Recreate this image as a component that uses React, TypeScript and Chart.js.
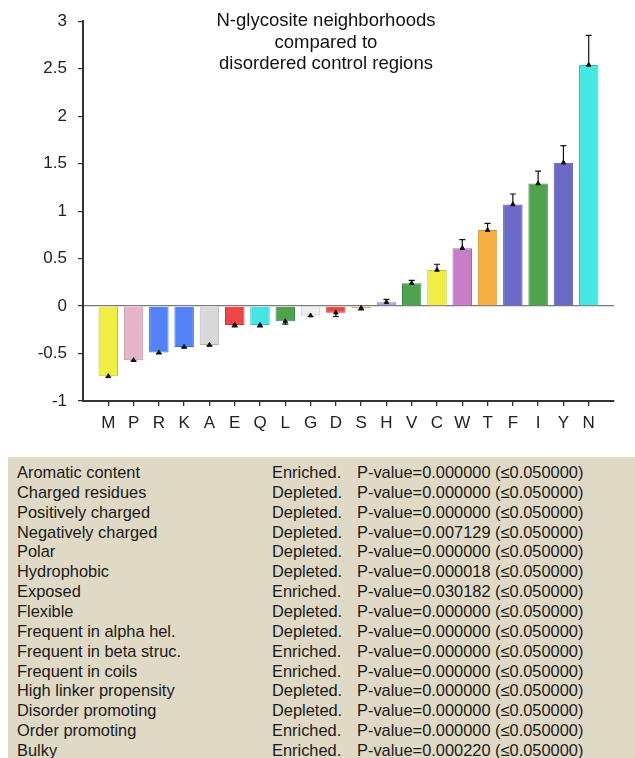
import React, { useEffect, useRef } from "react";
import { Chart, registerables } from "chart.js";

Chart.register(...registerables);

// Amino acid residues, ordered from most depleted to most enriched
const RESIDUES = ["M", "P", "R", "K", "A", "E", "Q", "L", "G", "D", "S", "H", "V", "C", "W", "T", "F", "I", "Y", "N"];

// Relative enrichment of each residue
const VALUES = [-0.74, -0.57, -0.49, -0.43, -0.41, -0.2, -0.2, -0.16, -0.1, -0.07, -0.02, 0.04, 0.24, 0.38, 0.61, 0.8, 1.07, 1.29, 1.51, 2.54];

// Error bar lengths (drawn away from zero)
const ERRORS = [0.01, 0.01, 0.01, 0.01, 0.01, 0.02, 0.02, 0.03, 0.01, 0.04, 0.02, 0.03, 0.03, 0.06, 0.09, 0.07, 0.11, 0.13, 0.18, 0.31];

// Residue group colours
const BAR_COLORS = [
  "#eeee44", "#e6b4c9", "#5282f5", "#5282f5", "#d9d9d9", "#ee4646",
  "#46e4e4", "#4fa34f", "#efefef", "#ee4646", "#f8b040", "#a0a0e2",
  "#4fa34f", "#eeee44", "#c77fc9", "#f8b040", "#6a6ac6", "#4fa34f",
  "#6a6ac6", "#46e8e4",
];

const Y_TICKS = [3, 2.5, 2, 1.5, 1, 0.5, 0, -0.5, -1];

const TITLE_LINES = ["N-glycosite neighborhoods", "compared to", "disordered control regions"];

// Property summary table
const PROPERTIES = [
  "Aromatic content", "Charged residues", "Positively charged", "Negatively charged",
  "Polar", "Hydrophobic", "Exposed", "Flexible", "Frequent in alpha hel.",
  "Frequent in beta struc.", "Frequent in coils", "High linker propensity",
  "Disorder promoting", "Order promoting", "Bulky",
];
const TRENDS = [
  "Enriched.", "Depleted.", "Depleted.", "Depleted.", "Depleted.", "Depleted.",
  "Enriched.", "Depleted.", "Depleted.", "Enriched.", "Enriched.", "Depleted.",
  "Depleted.", "Enriched.", "Enriched.",
];
const P_VALUES = [
  "0.000000", "0.000000", "0.000000", "0.007129", "0.000000", "0.000018",
  "0.030182", "0.000000", "0.000000", "0.000000", "0.000000", "0.000000",
  "0.000000", "0.000000", "0.000220",
];
const THRESHOLD = "0.050000";

const FONT = '"Liberation Sans", Arial, Helvetica, sans-serif';

function darken(hex: string, f: number): string {
  const n = parseInt(hex.slice(1), 16);
  const r = Math.round(((n >> 16) & 255) * f);
  const g = Math.round(((n >> 8) & 255) * f);
  const b = Math.round((n & 255) * f);
  return `rgb(${r},${g},${b})`;
}

// Draws one-sided error bars pointing away from zero
const errorBarPlugin = {
  id: "errorBars",
  afterDatasetsDraw(chart: any) {
    const { ctx, scales } = chart;
    const xs = scales.x;
    const ys = scales.y;
    ctx.save();
    ctx.strokeStyle = "#111";
    ctx.lineWidth = 1.2;
    VALUES.forEach((v, i) => {
      const err = ERRORS[i];
      const sign = v >= 0 ? 1 : -1;
      const x = xs.getPixelForValue(i + 1);
      const y0 = ys.getPixelForValue(v);
      const y1 = ys.getPixelForValue(v + sign * err);
      ctx.beginPath();
      ctx.moveTo(x, y0);
      ctx.lineTo(x, y1);
      ctx.moveTo(x - 3, y1);
      ctx.lineTo(x + 3, y1);
      ctx.stroke();
    });
    ctx.restore();
  },
};

export default function App() {
  const canvasRef = useRef<HTMLCanvasElement | null>(null);

  useEffect(() => {
    if (!canvasRef.current) return;
    const labels = ["", ...RESIDUES, ""];
    const padded = (arr: any[]) => [null, ...arr, null];
    const last = labels.length - 1;

    const chart = new Chart(canvasRef.current, {
      type: "bar",
      data: {
        labels,
        datasets: [
          {
            type: "bar",
            data: padded(VALUES),
            backgroundColor: padded(BAR_COLORS),
            borderColor: padded(BAR_COLORS.map((c) => darken(c, 0.82))),
            borderWidth: 1,
            categoryPercentage: 1,
            barPercentage: 0.77,
            order: 2,
          } as any,
          {
            type: "line",
            data: padded(VALUES),
            showLine: false,
            pointStyle: "triangle",
            pointRadius: 2.6,
            pointBackgroundColor: "#111",
            pointBorderColor: "#111",
            pointBorderWidth: 1,
            order: 1,
          } as any,
        ],
      },
      options: {
        responsive: false,
        maintainAspectRatio: false,
        animation: false,
        layout: { padding: { left: 0, right: 21, top: 18, bottom: 0 } },
        plugins: {
          legend: { display: false },
          tooltip: { enabled: false },
          title: { display: false },
        },
        scales: {
          x: {
            type: "category",
            offset: false,
            afterFit: (scale: any) => {
              scale.height = 39;
            },
            grid: {
              offset: false,
              drawOnChartArea: false,
              drawTicks: true,
              tickLength: 5,
              color: "transparent",
              tickColor: (ctx: any) => (ctx.index === 0 || ctx.index === last ? "transparent" : "#333"),
              lineWidth: 1.3,
            },
            border: { display: true, color: "#333", width: 2 },
            ticks: {
              autoSkip: false,
              maxRotation: 0,
              padding: 7,
              color: "#222",
              font: { family: FONT, size: 17 },
            },
          },
          y: {
            type: "linear",
            min: -1,
            max: 3,
            afterFit: (scale: any) => {
              scale.width = 83;
            },
            afterBuildTicks: (scale: any) => {
              scale.ticks = Y_TICKS.slice().reverse().map((v) => ({ value: v }));
            },
            grid: {
              drawOnChartArea: true,
              drawTicks: true,
              tickLength: 5,
              color: (ctx: any) => (ctx.tick && ctx.tick.value === 0 ? "#7a7a7a" : "transparent"),
              tickColor: "#333",
              lineWidth: 1.2,
            },
            border: { display: true, color: "#333", width: 2 },
            ticks: {
              padding: 11,
              color: "#222",
              font: { family: FONT, size: 17 },
              callback: (v: any) => String(Number(v)),
            },
          },
        },
      },
      plugins: [errorBarPlugin],
    });

    return () => chart.destroy();
  }, []);

  return (
    <div style={{ position: "absolute", left: 0, top: 0, width: 635, height: 758, background: "#fff", overflow: "hidden", fontFamily: FONT }}>
      <canvas ref={canvasRef} width={635} height={440} style={{ position: "absolute", left: 0, top: 0 }} />
      <div
        style={{
          position: "absolute",
          left: 176,
          top: 9,
          width: 300,
          textAlign: "center",
          fontSize: 18.5,
          lineHeight: "21.5px",
          color: "#111",
        }}
      >
        {TITLE_LINES.map((t) => (
          <div key={t}>{t}</div>
        ))}
      </div>
      <div
        style={{
          position: "absolute",
          left: 8,
          top: 457,
          width: 627,
          height: 301,
          background: "#dfd9c5",
          color: "#1a1a1a",
          fontSize: 16.4,
        }}
      >
        {PROPERTIES.map((p, i) => (
          <div key={p} style={{ position: "absolute", top: 5 + i * 19.85, left: 0, height: 20, lineHeight: "20px", width: 627 }}>
            <span style={{ position: "absolute", left: 9 }}>{p}</span>
            <span style={{ position: "absolute", left: 264 }}>{TRENDS[i]}</span>
            <span style={{ position: "absolute", left: 349 }}>{`P-value=${P_VALUES[i]} (≤${THRESHOLD})`}</span>
          </div>
        ))}
      </div>
    </div>
  );
}
